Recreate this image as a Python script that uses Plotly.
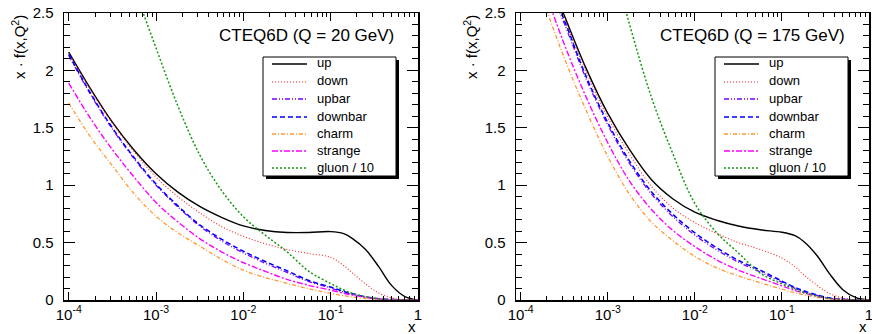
import plotly.graph_objects as go

# ---- data ----
X = [1.0e-4, 1.78e-4, 3.16e-4, 5.62e-4, 1.0e-3, 1.78e-3, 3.16e-3, 5.62e-3, 1.0e-2,
     1.78e-2, 3.16e-2, 5.62e-2, 0.1, 0.141, 0.178, 0.251, 0.355, 0.501, 0.708, 1.0]

# Q = 20 GeV
up_20 = [2.16, 1.84, 1.55, 1.305, 1.10, 0.94, 0.815, 0.72, 0.645, 0.605, 0.588, 0.588,
         0.596, 0.578, 0.535, 0.44, 0.29, 0.125, 0.03, 0.0]
down_20 = [2.15, 1.83, 1.54, 1.29, 1.07, 0.90, 0.76, 0.64, 0.555, 0.49, 0.44, 0.405,
           0.372, 0.30, 0.235, 0.14, 0.06, 0.018, 0.003, 0.0]
upbar_20 = [2.13, 1.79, 1.49, 1.23, 1.00, 0.81, 0.645, 0.515, 0.41, 0.32, 0.24, 0.16,
            0.105, 0.068, 0.049, 0.024, 0.009, 0.003, 0.001, 0.0]
downbar_20 = [2.14, 1.80, 1.50, 1.24, 1.01, 0.82, 0.655, 0.53, 0.425, 0.335, 0.255, 0.17,
              0.113, 0.075, 0.055, 0.028, 0.011, 0.004, 0.001, 0.0]
charm_20 = [1.715, 1.42, 1.17, 0.925, 0.73, 0.585, 0.47, 0.355, 0.26, 0.195, 0.145, 0.098,
            0.058, 0.037, 0.026, 0.013, 0.005, 0.002, 0.0005, 0.0]
strange_20 = [1.89, 1.58, 1.31, 1.07, 0.85, 0.68, 0.535, 0.42, 0.325, 0.25, 0.18, 0.128,
              0.086, 0.058, 0.042, 0.023, 0.01, 0.004, 0.001, 0.0]
gluon10_20 = [5.2, 4.2, 3.4, 2.73, 2.195, 1.69, 1.265, 0.955, 0.725, 0.565, 0.42, 0.25,
              0.143, 0.087, 0.057, 0.028, 0.011, 0.004, 0.001, 0.0]

# Q = 175 GeV
up_175 = [3.6, 2.95, 2.48, 2.02, 1.625, 1.31, 1.05, 0.88, 0.765, 0.695, 0.645, 0.612,
          0.59, 0.56, 0.51, 0.39, 0.225, 0.09, 0.02, 0.0]
down_175 = [3.55, 2.92, 2.45, 1.99, 1.59, 1.27, 0.99, 0.80, 0.675, 0.58, 0.50, 0.44,
            0.365, 0.29, 0.22, 0.13, 0.055, 0.017, 0.003, 0.0]
upbar_175 = [3.5, 2.87, 2.41, 1.93, 1.525, 1.19, 0.925, 0.725, 0.565, 0.437, 0.33, 0.245,
             0.155, 0.102, 0.073, 0.04, 0.015, 0.005, 0.0015, 0.0]
downbar_175 = [3.55, 2.90, 2.44, 1.95, 1.545, 1.21, 0.945, 0.745, 0.585, 0.455, 0.345, 0.26,
               0.165, 0.11, 0.08, 0.045, 0.017, 0.006, 0.002, 0.0]
charm_175 = [3.2, 2.63, 2.11, 1.655, 1.25, 0.92, 0.68, 0.515, 0.38, 0.28, 0.21, 0.15,
             0.095, 0.062, 0.045, 0.023, 0.009, 0.003, 0.001, 0.0]
strange_175 = [3.36, 2.76, 2.23, 1.77, 1.37, 1.035, 0.79, 0.605, 0.465, 0.35, 0.26, 0.19,
               0.123, 0.082, 0.062, 0.033, 0.012, 0.004, 0.001, 0.0]
gluon10_175 = [7.1, 5.8, 4.7, 3.85, 3.12, 2.4, 1.77, 1.27, 0.84, 0.587, 0.41, 0.235,
               0.14, 0.095, 0.065, 0.035, 0.012, 0.004, 0.001, 0.0]

series_names = ["up", "down", "upbar", "downbar", "charm", "strange", "gluon / 10"]
panel_titles = ["CTEQ6D (Q = 20 GeV)", "CTEQ6D (Q = 175 GeV)"]
x_tickvals = [1e-4, 1e-3, 1e-2, 1e-1, 1]
x_ticktext = ["10<sup>-4</sup>", "10<sup>-3</sup>", "10<sup>-2</sup>", "10<sup>-1</sup>", "1"]
x_minor = [m * 10.0 ** e for e in range(-4, 0) for m in range(2, 10)]

styles = [
    dict(color="#000000", width=1.4, dash="solid"),
    dict(color="#ff2020", width=1.1, dash="1px,2px"),
    dict(color="#7a00ff", width=1.3, dash="5px,2px,1px,2px,1px,2px"),
    dict(color="#0000ff", width=1.5, dash="5px,3px"),
    dict(color="#ff9933", width=1.3, dash="4px,2px,1px,2px"),
    dict(color="#ff00ff", width=1.4, dash="6px,2px,2px,2px"),
    dict(color="#119911", width=1.5, dash="2px,2px"),
]

panels = [
    [up_20, down_20, upbar_20, downbar_20, charm_20, strange_20, gluon10_20],
    [up_175, down_175, upbar_175, downbar_175, charm_175, strange_175, gluon10_175],
]

W, H = 872, 334
FONT = "Liberation Sans, Arial, Helvetica, sans-serif"

fig = go.Figure()
for p, data in enumerate(panels):
    xa = "x" if p == 0 else "x2"
    ya = "y" if p == 0 else "y2"
    for name, ys, st in zip(series_names, data, styles):
        fig.add_trace(go.Scatter(
            x=X, y=ys, mode="lines", name=name,
            line=dict(shape="spline", smoothing=1, **st),
            xaxis=xa, yaxis=ya, showlegend=False, hoverinfo="skip"))

# frame geometry in pixels
frames = [(64, 418), (516, 869)]
top, bottom = 13, 300


def px_x(v):
    return v / W


def px_y(v):
    return 1 - v / H


common_x = dict(type="log", range=[-4.054, 0], showgrid=False, zeroline=False,
                automargin=False, ticklabeloverflow="allow",
                showline=True, linecolor="black", linewidth=1.5, mirror="allticks",
                ticks="inside", ticklen=8, tickwidth=1, tickcolor="black",
                tickmode="array", tickvals=x_tickvals, ticktext=x_ticktext,
                tickfont=dict(family=FONT, size=15, color="black"),
                minor=dict(tickmode="array", tickvals=x_minor, ticks="inside",
                           ticklen=4, tickwidth=1, tickcolor="black"))
common_y = dict(range=[0, 2.5], showgrid=False, zeroline=False, showline=True,
                automargin=False,
                linecolor="black", linewidth=1.5, mirror="allticks",
                ticks="inside", ticklen=11, tickwidth=1, tickcolor="black",
                dtick=0.5, tick0=0, ticklabelstandoff=6,
                tickfont=dict(family=FONT, size=15, color="black"),
                minor=dict(dtick=0.1, ticks="inside", ticklen=6, tickwidth=1,
                           tickcolor="black"))

fig.update_layout(
    width=W, height=H, margin=dict(l=0, r=0, t=0, b=0, autoexpand=False),
    paper_bgcolor="white", plot_bgcolor="white", showlegend=False,
    xaxis=dict(domain=[px_x(frames[0][0]), px_x(frames[0][1])], anchor="y", **common_x),
    yaxis=dict(domain=[px_y(bottom), px_y(top)], anchor="x", **common_y),
    xaxis2=dict(domain=[px_x(frames[1][0]), px_x(frames[1][1])], anchor="y2", **common_x),
    yaxis2=dict(domain=[px_y(bottom), px_y(top)], anchor="x2", **common_y),
)

# legend boxes (drawn as decoration: box, shadow, key lines and labels)
legend_left = [263, 715]
leg_w, leg_top, leg_bottom = 133, 57, 176
entry_y = [64, 82, 99, 117, 134, 151, 168]

shapes = []
annotations = []
for p in range(2):
    lx = legend_left[p]
    shapes.append(dict(type="rect", xref="paper", yref="paper",
                       x0=px_x(lx + 3), x1=px_x(lx + leg_w + 3),
                       y0=px_y(leg_bottom + 3), y1=px_y(leg_top + 3),
                       fillcolor="black", line=dict(width=0), layer="above"))
    shapes.append(dict(type="rect", xref="paper", yref="paper",
                       x0=px_x(lx), x1=px_x(lx + leg_w),
                       y0=px_y(leg_bottom), y1=px_y(leg_top),
                       fillcolor="white", line=dict(color="black", width=1), layer="above"))
    for name, st, ey in zip(series_names, styles, entry_y):
        shapes.append(dict(type="line", xref="paper", yref="paper",
                           x0=px_x(lx + 9), x1=px_x(lx + 44), y0=px_y(ey), y1=px_y(ey),
                           line=dict(color=st["color"], width=st["width"], dash=st["dash"]),
                           layer="above"))
        annotations.append(dict(text=name, xref="paper", yref="paper",
                                x=px_x(lx + 52), y=px_y(ey - 1), xanchor="left",
                                yanchor="middle", showarrow=False,
                                font=dict(family=FONT, size=13, color="black")))

    fx0, fx1 = frames[p]
    annotations.append(dict(text=panel_titles[p], xref="paper", yref="paper",
                            x=px_x(fx1 - 22), y=px_y(36), xanchor="right", yanchor="middle",
                            showarrow=False, font=dict(family=FONT, size=17, color="black")))
    annotations.append(dict(text="x · f(x,Q<sup>2</sup>)", xref="paper", yref="paper",
                            x=px_x(fx0 - 46), y=px_y(top), xanchor="center", yanchor="top",
                            textangle=-90, showarrow=False,
                            font=dict(family=FONT, size=15, color="black")))
    annotations.append(dict(text="x", xref="paper", yref="paper",
                            x=px_x(fx1 - 6), y=0, xanchor="center", yanchor="bottom",
                            yshift=-3, showarrow=False,
                            font=dict(family=FONT, size=15, color="black")))

fig.update_layout(shapes=shapes, annotations=annotations)
fig.write_html("out.html", config={"displayModeBar": False, "staticPlot": True},
               post_script="document.body.style.margin='0px';document.body.style.overflow='hidden';")
